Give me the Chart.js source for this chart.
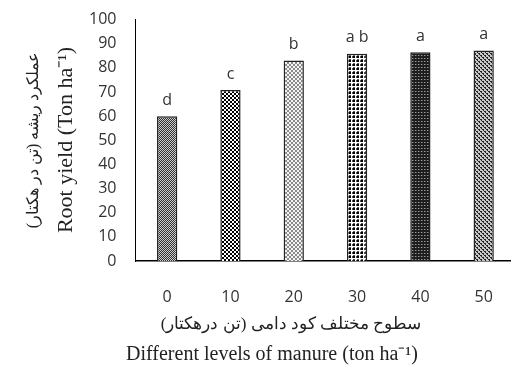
<!DOCTYPE html>
<html>
<head>
<meta charset="utf-8">
<script src="https://cdn.jsdelivr.net/npm/chart.js@4"></script>
<style>
  html, body { margin: 0; padding: 0; background: #fff; overflow: hidden; }
  #wrap { width: 520px; height: 377px; margin-top: -9px; }
</style>
</head>
<body>
<div id="wrap"><canvas id="myChart" width="520" height="377"></canvas></div>
<script>
// data
var levels = ['0', '10', '20', '30', '40', '50'];
var rootYield = [60.0, 70.8, 83.1, 85.9, 86.5, 87.2];
var groupLetters = ['d', 'c', 'b', 'a b', 'a', 'a'];
var yTicks = [0, 10, 20, 30, 40, 50, 60, 70, 80, 90, 100];

var yTitleFa = 'عملکرد ریشه (تن در هکتار)';
var yTitleEn = 'Root yield (Ton ha\u207B\u00B9)';
var xTitleFa = 'سطوح مختلف کود دامی (تن درهکتار)';
var xTitleEn = 'Different levels of manure (ton ha\u207B\u00B9)';

// the canvas is pulled up by this much (see #wrap)
var shift = 9;

// small helper to make hatch fills for the bars
function makePattern(size, draw) {
    var c = document.createElement('canvas');
    c.width = size;
    c.height = size;
    var g = c.getContext('2d');
    draw(g);
    return g.createPattern(c, 'repeat');
}

var patterns = [
    // fine grey checker
    makePattern(2, function (g) {
        g.fillStyle = '#cfcfcf'; g.fillRect(0, 0, 2, 2);
        g.fillStyle = '#2e2e2e'; g.fillRect(0, 0, 1, 1); g.fillRect(1, 1, 1, 1);
    }),
    // bold black/white checker
    makePattern(4, function (g) {
        g.fillStyle = '#fff'; g.fillRect(0, 0, 4, 4);
        g.fillStyle = '#000'; g.fillRect(0, 0, 2, 2); g.fillRect(2, 2, 2, 2);
    }),
    // light diagonal lattice
    makePattern(4, function (g) {
        g.fillStyle = '#f4f4f4'; g.fillRect(0, 0, 4, 4);
        g.fillStyle = '#8a8a8a';
        g.fillRect(0, 0, 1, 1); g.fillRect(1, 1, 1, 1); g.fillRect(2, 2, 1, 1); g.fillRect(3, 3, 1, 1);
        g.fillRect(3, 0, 1, 1); g.fillRect(2, 1, 1, 1); g.fillRect(1, 2, 1, 1); g.fillRect(0, 3, 1, 1);
    }),
    // white with black dots
    makePattern(4, function (g) {
        g.fillStyle = '#fff'; g.fillRect(0, 0, 4, 4);
        g.fillStyle = '#000'; g.fillRect(1, 1, 2, 2);
        g.fillStyle = '#555'; g.fillRect(0, 1, 1, 2); g.fillRect(1, 0, 2, 1);
    }),
    // dark grid with light dots
    makePattern(3, function (g) {
        g.fillStyle = '#1e1e1e'; g.fillRect(0, 0, 3, 3);
        g.fillStyle = '#9a9a9a'; g.fillRect(1, 1, 1, 1);
        g.fillStyle = '#555'; g.fillRect(2, 1, 1, 1);
    }),
    // medium diamond checker
    makePattern(4, function (g) {
        g.fillStyle = '#c8c8c8'; g.fillRect(0, 0, 4, 4);
        g.fillStyle = '#222';
        g.fillRect(0, 0, 2, 1); g.fillRect(2, 2, 2, 1);
        g.fillRect(1, 1, 1, 1); g.fillRect(3, 3, 1, 1);
    })
];

// letters over the bars + the two-language axis titles
var extraText = {
    id: 'extraText',
    afterDatasetsDraw: function (chart) {
        var ctx = chart.ctx;
        var meta = chart.getDatasetMeta(0);
        ctx.save();
        ctx.fillStyle = '#333';
        ctx.font = '16px "Open Sans", "Liberation Sans", sans-serif';
        ctx.textAlign = 'center';
        ctx.textBaseline = 'bottom';
        meta.data.forEach(function (bar, i) {
            ctx.fillText(groupLetters[i], bar.x, bar.y - 8);
        });

        var midY = 140 + shift;
        ctx.fillStyle = '#222';
        ctx.textBaseline = 'middle';

        ctx.save();
        ctx.translate(34, midY);
        ctx.rotate(-Math.PI / 2);
        ctx.font = '16px "Liberation Serif", "DejaVu Serif", serif';
        ctx.fillText(yTitleFa, 0, 0);
        ctx.restore();

        ctx.save();
        ctx.translate(66, midY);
        ctx.rotate(-Math.PI / 2);
        ctx.font = '22px "Liberation Serif", serif';
        ctx.fillText(yTitleEn, 0, 0);
        ctx.restore();

        ctx.font = '17px "Liberation Serif", "DejaVu Serif", serif';
        ctx.fillText(xTitleFa, 291, 325 + shift);
        ctx.font = '20px "Liberation Serif", serif';
        ctx.fillText(xTitleEn, 272, 355 + shift);
        ctx.restore();
    }
};

const ctx = document.getElementById('myChart');

new Chart(ctx, {
    type: 'bar',
    data: {
        labels: levels,
        datasets: [{
            data: rootYield,
            backgroundColor: patterns,
            borderColor: '#222',
            borderWidth: 1.5,
            categoryPercentage: 1,
            barPercentage: 0.32
        }]
    },
    options: {
        responsive: false,
        animation: false,
        layout: {
            padding: { top: 9, right: 2, left: 0, bottom: 0 }
        },
        plugins: {
            legend: { display: false },
            tooltip: { enabled: false }
        },
        scales: {
            x: {
                grid: { display: false, drawTicks: false },
                border: { display: true, color: '#000', width: 1.5 },
                ticks: {
                    color: '#333',
                    padding: 27,
                    font: { family: '"Open Sans", "Liberation Sans", sans-serif', size: 16 }
                },
                afterFit: function (s) { s.height = 107; }
            },
            y: {
                min: 0,
                max: 100,
                afterBuildTicks: function (s) {
                    s.ticks = yTicks.map(function (v) { return { value: v }; });
                },
                grid: { display: false, drawTicks: false },
                border: { display: true, color: '#000', width: 1 },
                ticks: {
                    color: '#333',
                    padding: 19,
                    font: { family: '"Open Sans", "Liberation Sans", sans-serif', size: 16 }
                },
                afterFit: function (s) { s.width = 135.5; }
            }
        }
    },
    plugins: [extraText]
});
</script>
</body>
</html>
